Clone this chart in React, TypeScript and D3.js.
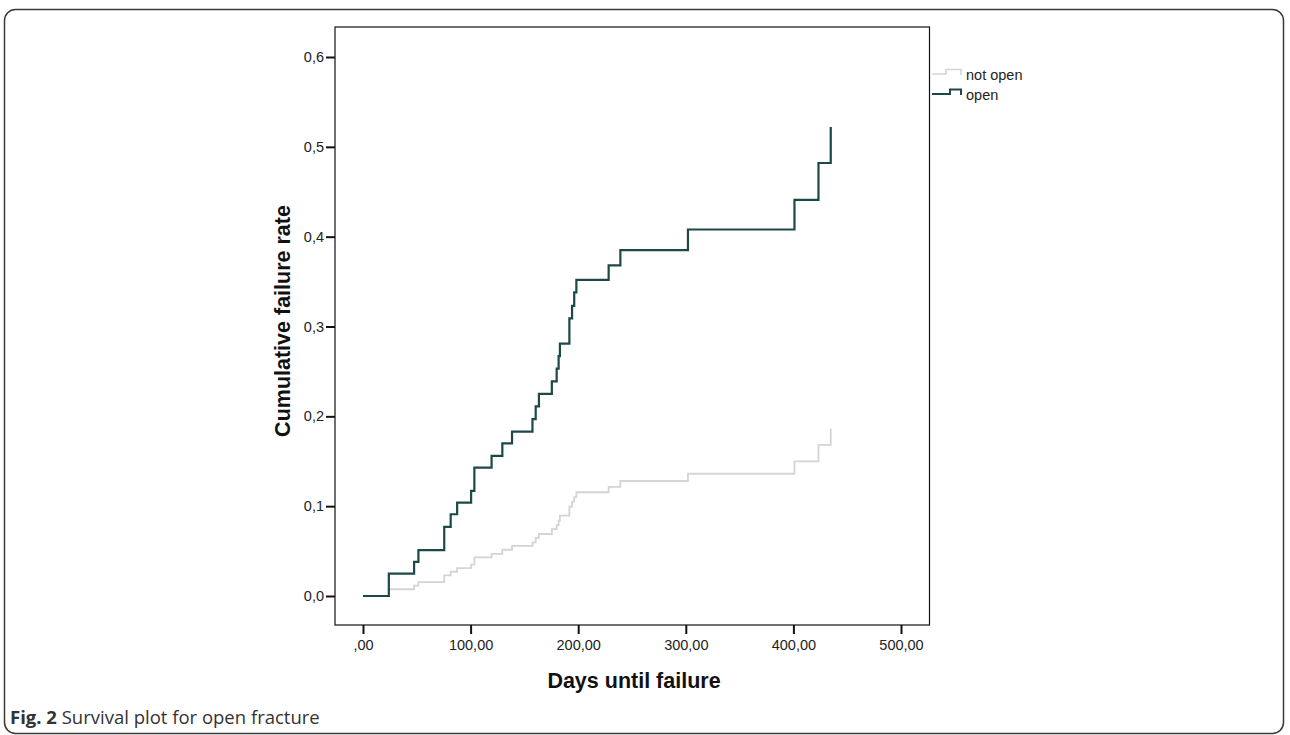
import React, { useEffect, useRef } from 'react';
import * as d3 from 'd3';

// event times (days) shared by both curves
const days = [0, 24, 47.5, 51.5, 75.5, 81.5, 87.5, 100.5, 103.5, 119.5, 129.5, 138.5, 157.5, 160.5, 163.5, 175.5, 180, 181.8, 183, 191.8, 194.3, 196.3, 198.3, 228.3, 239.2, 302, 401, 423.3, 434.7];

const openRate = [0, 0.025, 0.038, 0.051, 0.077, 0.091, 0.104, 0.117, 0.143, 0.156, 0.17, 0.183, 0.197, 0.211, 0.225, 0.239, 0.253, 0.267, 0.281, 0.309, 0.323, 0.338, 0.352, 0.368, 0.385, 0.408, 0.441, 0.482, 0.522];

const notOpenRate = [0, 0.0075, 0.0115, 0.0155, 0.023, 0.027, 0.031, 0.035, 0.043, 0.047, 0.0515, 0.0557, 0.0597, 0.0648, 0.069, 0.0745, 0.079, 0.084, 0.0895, 0.0995, 0.105, 0.11, 0.1155, 0.1215, 0.128, 0.1361, 0.1498, 0.1682, 0.1861];

const xTicks = [0, 100, 200, 300, 400, 500];
const xTickLabels = [',00', '100,00', '200,00', '300,00', '400,00', '500,00'];
const yTicks = [0, 0.1, 0.2, 0.3, 0.4, 0.5, 0.6];
const yTickLabels = ['0,0', '0,1', '0,2', '0,3', '0,4', '0,5', '0,6'];

const seriesNames = ['not open', 'open'];
const seriesColors = ['#d4d4d4', '#1c4848'];

const W = 1290;
const H = 735;

const App: React.FC = () => {
  const svgRef = useRef<SVGSVGElement>(null);

  useEffect(() => {
    if (!svgRef.current) return;
    const svg = d3.select(svgRef.current);
    svg.selectAll('*').remove();

    const font = 'Arial, "Liberation Sans", sans-serif';

    // outer figure box
    svg.append('rect')
      .attr('x', 4.5).attr('y', 9.5)
      .attr('width', 1279).attr('height', 724)
      .attr('rx', 11)
      .attr('fill', 'none')
      .attr('stroke', '#3a3a3a')
      .attr('stroke-width', 1.5);

    const frame = { left: 335, top: 27, right: 929.5, bottom: 625 };

    const x = d3.scaleLinear().domain([0, 500]).range([363, 901]);
    const y = d3.scaleLinear().domain([0, 0.6]).range([596, 57]);

    // plot frame
    svg.append('rect')
      .attr('x', frame.left).attr('y', frame.top)
      .attr('width', frame.right - frame.left)
      .attr('height', frame.bottom - frame.top)
      .attr('fill', 'none')
      .attr('stroke', '#111')
      .attr('stroke-width', 1.2);

    // y axis
    const yAxis = d3.axisLeft(y)
      .tickValues(yTicks)
      .tickSize(9)
      .tickPadding(2)
      .tickFormat((_, i) => yTickLabels[i]);
    const gy = svg.append('g')
      .attr('transform', `translate(${frame.left},0)`)
      .call(yAxis);
    gy.select('.domain').remove();
    gy.selectAll('line').attr('stroke', '#111').attr('stroke-width', 2);
    gy.selectAll('text').attr('font-family', font).attr('font-size', 14.5).attr('fill', '#222');

    // x axis
    const xAxis = d3.axisBottom(x)
      .tickValues(xTicks)
      .tickSize(9)
      .tickPadding(6)
      .tickFormat((_, i) => xTickLabels[i]);
    const gx = svg.append('g')
      .attr('transform', `translate(0,${frame.bottom})`)
      .call(xAxis);
    gx.select('.domain').remove();
    gx.selectAll('line').attr('stroke', '#111').attr('stroke-width', 2);
    gx.selectAll('text').attr('font-family', font).attr('font-size', 14.5).attr('fill', '#222');

    // axis titles
    svg.append('text')
      .attr('x', 634).attr('y', 688)
      .attr('text-anchor', 'middle')
      .attr('font-family', font)
      .attr('font-weight', 'bold')
      .attr('font-size', 21.5)
      .attr('fill', '#111')
      .text('Days until failure');

    svg.append('text')
      .attr('transform', 'translate(290,321) rotate(-90)')
      .attr('text-anchor', 'middle')
      .attr('font-family', font)
      .attr('font-weight', 'bold')
      .attr('font-size', 21.5)
      .attr('fill', '#111')
      .text('Cumulative failure rate');

    // step curves
    const line = d3.line<[number, number]>()
      .x(d => x(d[0]))
      .y(d => y(d[1]))
      .curve(d3.curveStepAfter);

    const series = [notOpenRate, openRate];
    series.forEach((vals, i) => {
      const pts: [number, number][] = days.map((d, j) => [d, vals[j]]);
      svg.append('path')
        .attr('d', line(pts) || '')
        .attr('fill', 'none')
        .attr('stroke', seriesColors[i])
        .attr('stroke-width', i === 1 ? 2.2 : 1.8);
    });

    // legend
    const lg = svg.append('g').attr('transform', 'translate(932,0)');
    seriesNames.forEach((name, i) => {
      const cy = 74 + i * 20;
      const stepX = i === 1 ? 18 : 14;
      lg.append('path')
        .attr('d', `M0,${cy} L${stepX},${cy} L${stepX},${cy - 4.5} L29,${cy - 4.5} L29,${cy + 1}`)
        .attr('fill', 'none')
        .attr('stroke', seriesColors[i])
        .attr('stroke-width', i === 1 ? 2 : 1.6);
      lg.append('text')
        .attr('x', 34).attr('y', cy + 6)
        .attr('font-family', font)
        .attr('font-size', 14.5)
        .attr('fill', '#222')
        .text(name);
    });

    // caption
    const cap = svg.append('text')
      .attr('x', 10).attr('y', 724)
      .attr('font-family', '"Open Sans", "Noto Sans", sans-serif')
      .attr('font-size', 18.5)
      .attr('fill', '#333');
    cap.append('tspan').attr('font-weight', 'bold').text('Fig. 2');
    cap.append('tspan').text(' Survival plot for open fracture');
  }, []);

  return (
    <div style={{ position: 'absolute', left: 0, top: 0, width: W, height: H, background: '#fff' }}>
      <svg ref={svgRef} width={W} height={H} />
    </div>
  );
};

export default App;
